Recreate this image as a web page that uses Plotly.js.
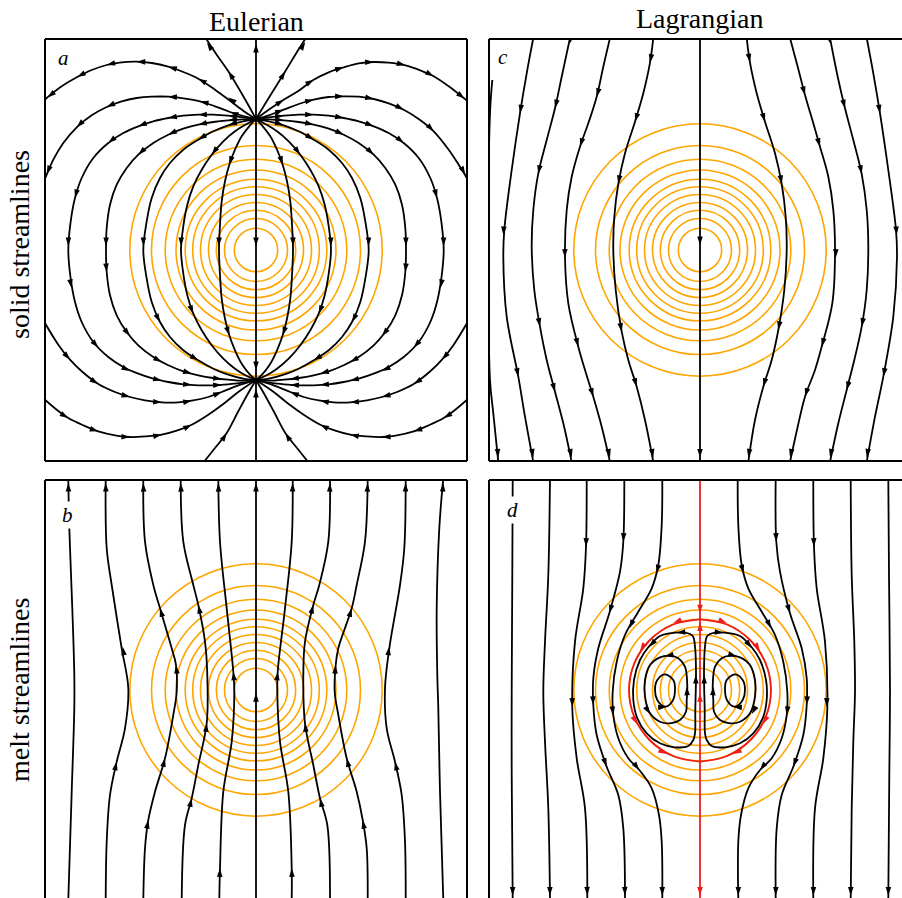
<!DOCTYPE html>
<html>
<head>
<meta charset="utf-8">
<script src="https://cdn.plot.ly/plotly-3.0.1.min.js"></script>
<style>
  html, body { margin: 0; padding: 0; background: #fff; overflow: hidden; }
  #fig { width: 902px; height: 898px; }
</style>
</head>
<body>
<div id="fig"></div>
<script>
// ---------------------------------------------------------------------------
// Data: streamlines are listed in flow order as [x, y] pairs (grid units,
// origin at the centre of the porosity anomaly). Arrows are [x, y] positions.
// ---------------------------------------------------------------------------
const columnTitles = ['Eulerian', 'Lagrangian'];
const rowTitles = ['solid streamlines', 'melt streamlines'];
const panelLetters = ['a', 'c', 'b', 'd'];

// porosity contour radii
const contourRadii = [12.62, 10.45, 9.08, 8.0, 7.08, 6.33, 5.55, 4.75, 3.97, 3.15, 2.17];

// (a) Eulerian solid streamlines
const eulerSolidLines = [
  [[0,13.1],[0,21.3]],
  [[0,13.1],[0,0],[0,-13.0]],
  [[0,-21.3],[0,-13.0]],
  [[0,13.1],[-1.27,15.37],[-2.77,17.87],[-3.93,19.53],[-5.1,21.3]],
  [[0,13.1],[-1.1,13.8],[-2.43,14.8],[-4.1,16.03],[-5.77,17.13],[-7.27,17.8],[-8.77,18.33],[-10.43,18.7],[-11.93,18.83],[-13.43,18.77],[-14.93,18.5],[-16.43,18.0],[-17.87,17.3],[-19.43,16.37],[-20.93,15.2],[-21.4,14.8]],
  [[0,13.1],[-1.27,13.4],[-2.6,13.8],[-4.1,14.37],[-5.6,14.87],[-7.27,15.17],[-8.77,15.33],[-10.43,15.33],[-11.93,15.2],[-13.43,14.87],[-14.93,14.3],[-16.43,13.47],[-17.93,12.27],[-19.27,10.7],[-20.27,9.03],[-20.93,7.53],[-21.4,6.4]],
  [[0,13.1],[-1.27,13.27],[-2.77,13.43],[-4.27,13.53],[-5.77,13.53],[-7.27,13.43],[-8.77,13.2],[-10.27,12.87],[-11.77,12.37],[-13.27,11.7],[-14.77,10.7],[-16.27,9.2],[-17.43,7.2],[-18.1,5.2],[-18.53,2.87],[-18.77,0],[-18.53,-2.87],[-18.1,-5.2],[-17.43,-7.2],[-16.27,-9.2],[-14.77,-10.7],[-13.27,-11.7],[-11.77,-12.37],[-10.27,-12.87],[-8.77,-13.2],[-7.27,-13.43],[-5.77,-13.53],[-4.27,-13.53],[-2.77,-13.43],[-1.27,-13.27],[0,-13.0]],
  [[0,13.1],[-1.27,13.07],[-2.77,12.97],[-4.27,12.8],[-5.77,12.53],[-7.27,12.13],[-8.77,11.53],[-10.27,10.7],[-11.77,9.53],[-12.93,8.2],[-13.93,6.53],[-14.6,4.53],[-14.93,2.2],[-15.0,0],[-14.93,-2.2],[-14.6,-4.53],[-13.93,-6.53],[-12.93,-8.2],[-11.77,-9.53],[-10.27,-10.7],[-8.77,-11.53],[-7.27,-12.13],[-5.77,-12.53],[-4.27,-12.8],[-2.77,-12.97],[-1.27,-13.07],[0,-13.0]],
  [[0,13.1],[-1.27,12.87],[-2.77,12.47],[-4.27,11.87],[-5.77,11.03],[-7.27,10.03],[-8.6,8.7],[-9.6,7.2],[-10.43,5.2],[-10.93,2.87],[-11.27,0],[-10.93,-2.87],[-10.43,-5.2],[-9.6,-7.2],[-8.6,-8.7],[-7.27,-10.03],[-5.77,-11.03],[-4.27,-11.87],[-2.77,-12.47],[-1.27,-12.87],[0,-13.0]],
  [[0,13.1],[-0.93,12.6],[-2.1,11.87],[-3.27,10.87],[-4.43,9.53],[-5.43,8.03],[-6.27,6.37],[-6.87,4.53],[-7.27,2.37],[-7.5,0],[-7.27,-2.37],[-6.87,-4.53],[-6.27,-6.37],[-5.43,-8.03],[-4.43,-9.53],[-3.27,-10.87],[-2.1,-11.87],[-0.93,-12.6],[0,-13.0]],
  [[0,13.1],[-0.6,12.47],[-1.43,11.37],[-2.1,10.03],[-2.67,8.53],[-3.1,6.87],[-3.43,4.87],[-3.6,2.53],[-3.7,0],[-3.6,-2.53],[-3.43,-4.87],[-3.1,-6.87],[-2.67,-8.53],[-2.1,-10.03],[-1.43,-11.37],[-0.6,-12.47],[0,-13.0]],
  [[-5.3,-21.3],[-4.1,-19.8],[-2.93,-18.3],[-1.77,-16.13],[-0.77,-14.3],[0,-13.0]],
  [[-21.4,-14.7],[-19.93,-15.97],[-18.77,-16.8],[-17.27,-17.53],[-15.77,-18.13],[-14.1,-18.53],[-12.6,-18.7],[-10.93,-18.63],[-9.43,-18.47],[-7.93,-18.07],[-6.43,-17.47],[-4.77,-16.47],[-3.27,-15.4],[-1.77,-14.2],[0,-13.0]],
  [[-21.4,-6.8],[-19.77,-9.47],[-18.6,-10.97],[-17.43,-12.13],[-15.77,-13.4],[-14.1,-14.2],[-12.6,-14.7],[-11.1,-15.03],[-9.43,-15.23],[-7.77,-15.23],[-6.43,-15.07],[-4.77,-14.7],[-3.43,-14.2],[-1.77,-13.53],[0,-13.0]],
  [[0,13.1],[1.27,15.2],[2.93,17.87],[3.93,19.53],[5.05,21.3]],
  [[0,13.1],[1.27,14.03],[2.77,15.03],[4.27,15.93],[5.77,17.03],[7.27,17.77],[8.77,18.27],[10.27,18.67],[11.77,18.8],[13.27,18.73],[14.93,18.47],[16.43,17.97],[17.77,17.37],[19.27,16.37],[20.77,15.2],[21.4,14.7]],
  [[0,13.1],[1.27,13.47],[2.77,14.03],[4.27,14.6],[5.77,15.03],[7.27,15.3],[8.77,15.37],[10.27,15.33],[11.77,15.1],[13.27,14.67],[14.77,14.03],[16.27,13.1],[17.77,11.87],[19.27,10.03],[20.27,8.53],[20.93,7.47],[21.4,6.5]],
  [[0,13.1],[1.27,13.27],[2.77,13.43],[4.27,13.53],[5.77,13.53],[7.27,13.43],[8.77,13.2],[10.27,12.87],[11.77,12.37],[13.27,11.7],[14.77,10.7],[16.27,9.2],[17.43,7.2],[18.1,5.2],[18.53,2.87],[18.77,0],[18.53,-2.87],[18.1,-5.2],[17.43,-7.2],[16.27,-9.2],[14.77,-10.7],[13.27,-11.7],[11.77,-12.37],[10.27,-12.87],[8.77,-13.2],[7.27,-13.43],[5.77,-13.53],[4.27,-13.53],[2.77,-13.43],[1.27,-13.27],[0,-13.0]],
  [[0,13.1],[1.27,13.07],[2.77,12.97],[4.27,12.8],[5.77,12.53],[7.27,12.13],[8.77,11.53],[10.27,10.7],[11.77,9.53],[12.93,8.2],[13.93,6.53],[14.6,4.53],[14.93,2.2],[15.0,0],[14.93,-2.2],[14.6,-4.53],[13.93,-6.53],[12.93,-8.2],[11.77,-9.53],[10.27,-10.7],[8.77,-11.53],[7.27,-12.13],[5.77,-12.53],[4.27,-12.8],[2.77,-12.97],[1.27,-13.07],[0,-13.0]],
  [[0,13.1],[1.27,12.87],[2.77,12.47],[4.27,11.87],[5.77,11.03],[7.27,10.03],[8.6,8.7],[9.6,7.2],[10.43,5.2],[10.93,2.87],[11.27,0],[10.93,-2.87],[10.43,-5.2],[9.6,-7.2],[8.6,-8.7],[7.27,-10.03],[5.77,-11.03],[4.27,-11.87],[2.77,-12.47],[1.27,-12.87],[0,-13.0]],
  [[0,13.1],[0.93,12.6],[2.1,11.87],[3.27,10.87],[4.43,9.53],[5.43,8.03],[6.27,6.37],[6.87,4.53],[7.27,2.37],[7.5,0],[7.27,-2.37],[6.87,-4.53],[6.27,-6.37],[5.43,-8.03],[4.43,-9.53],[3.27,-10.87],[2.1,-11.87],[0.93,-12.6],[0,-13.0]],
  [[0,13.1],[0.6,12.47],[1.43,11.37],[2.1,10.03],[2.67,8.53],[3.1,6.87],[3.43,4.87],[3.6,2.53],[3.7,0],[3.6,-2.53],[3.43,-4.87],[3.1,-6.87],[2.67,-8.53],[2.1,-10.03],[1.43,-11.37],[0.6,-12.47],[0,-13.0]],
  [[5.3,-21.3],[4.1,-19.8],[2.93,-18.3],[1.77,-16.13],[0.77,-14.3],[0,-13.0]],
  [[21.4,-14.7],[19.93,-15.97],[18.77,-16.8],[17.27,-17.53],[15.77,-18.13],[14.1,-18.53],[12.6,-18.7],[10.93,-18.63],[9.43,-18.47],[7.93,-18.07],[6.43,-17.47],[4.77,-16.47],[3.27,-15.4],[1.77,-14.2],[0,-13.0]],
  [[21.4,-6.8],[19.77,-9.47],[18.6,-10.97],[17.43,-12.13],[15.77,-13.4],[14.1,-14.2],[12.6,-14.7],[11.1,-15.03],[9.43,-15.23],[7.77,-15.23],[6.43,-15.07],[4.77,-14.7],[3.43,-14.2],[1.77,-13.53],[0,-13.0]]
];
const eulerSolidArrows = [
  [0,20.6],[0,0.4],[0,-12.0],[0,-13.9],
  [-2.77,17.87],[-4.9,20.75],[2.93,17.87],[4.93,20.8],
  [-2.77,15.25],[-5.77,17.13],[-8.77,18.33],[-11.93,18.83],[-14.93,18.5],[-17.87,17.3],[-20.85,15.25],
  [2.77,15.03],[5.77,17.03],[8.77,18.27],[11.77,18.8],[14.93,18.47],[17.77,17.37],[20.85,15.15],
  [-2.6,13.8],[-5.6,14.87],[-8.77,15.33],[-14.93,14.3],[-17.93,12.27],[-20.93,7.6],
  [2.77,14.03],[5.77,15.03],[8.77,15.37],[11.77,15.1],[14.77,14.03],[17.77,11.87],[20.93,7.55],
  [-2.77,13.43],[-5.77,13.53],[-8.77,13.2],[-11.77,12.37],[-14.77,10.7],[-18.1,5.2],[-18.77,0.4],
  [2.77,13.43],[5.77,13.53],[8.77,13.2],[11.77,12.37],[14.77,10.7],[18.1,5.2],[18.77,0.4],
  [-18.45,-3.8],[-15.77,-9.75],[-12.6,-12.1],[-9.43,-13.05],[-6.43,-13.48],[-3.43,-13.47],
  [18.45,-3.8],[15.77,-9.75],[12.6,-12.1],[9.43,-13.05],[6.43,-13.48],[3.43,-13.47],
  [-2.77,12.97],[-5.77,12.53],[-8.77,11.53],[-11.77,9.53],[-15.0,0.4],
  [2.77,12.97],[5.77,12.53],[8.77,11.53],[11.77,9.53],[15.0,0.4],
  [-14.93,-2.2],[-12.6,-8.6],[-9.43,-11.2],[-6.43,-12.35],[-3.43,-12.9],
  [14.93,-2.2],[12.6,-8.6],[9.43,-11.2],[6.43,-12.35],[3.43,-12.9],
  [-2.77,12.47],[-5.77,11.03],[-11.27,0.4],[-9.6,-7.2],[-5.77,-11.03],
  [2.77,12.47],[5.77,11.03],[11.27,0.4],[9.6,-7.2],[5.77,-11.03],
  [-4.43,9.53],[-7.5,0.4],[-6.27,-6.37],
  [4.43,9.53],[7.5,0.4],[6.27,-6.37],
  [-2.67,8.53],[-3.7,0.4],[-2.67,-8.53],
  [2.67,8.53],[3.7,0.4],[2.67,-8.53],
  [-2.93,-18.3],[2.93,-18.3],
  [-18.77,-16.8],[-15.77,-18.13],[-12.6,-18.7],[-9.43,-18.47],[-6.43,-17.47],
  [18.77,-16.8],[15.77,-18.13],[12.6,-18.7],[9.43,-18.47],[6.43,-17.47],
  [-18.6,-10.97],[-15.77,-13.4],[-12.6,-14.7],[-9.43,-15.23],[-6.43,-15.07],[-3.43,-14.2],
  [18.6,-10.97],[15.77,-13.4],[12.6,-14.7],[9.43,-15.23],[6.43,-15.07],[3.43,-14.2]
];

// (c) Lagrangian solid streamlines
const lagrSolidLines = [
  [[-20.77,17.0],[-21.0,13.67],[-21.17,0.33],[-21.0,-13.0],[-20.67,-16.33],[-20.17,-21.2]],
  [[-16.67,21.2],[-17.33,17.67],[-18.0,13.67],[-18.83,8.0],[-19.57,2.0],[-19.67,-0.67],[-19.33,-6.67],[-18.17,-12.67],[-17.5,-16.67],[-16.67,-21.2]],
  [[-13.0,21.2],[-13.83,17.33],[-14.5,14.17],[-15.33,11.0],[-16.17,7.67],[-16.67,4.0],[-16.83,0.33],[-16.57,-4.0],[-16.0,-7.67],[-15.33,-11.0],[-14.5,-14.17],[-13.67,-17.33],[-12.83,-21.2]],
  [[-9.0,21.2],[-9.67,18.33],[-10.33,15.33],[-11.17,12.67],[-12.0,10.33],[-12.83,7.33],[-13.33,4.0],[-13.5,-0.67],[-13.17,-5.33],[-12.17,-9.67],[-11.5,-12.0],[-10.67,-14.67],[-9.83,-17.67],[-9.0,-21.2]],
  [[-4.67,21.2],[-5.0,18.73],[-5.67,15.67],[-6.5,12.83],[-7.5,9.67],[-8.17,6.6],[-8.57,3.33],[-8.67,0.0],[-8.43,-4.0],[-7.83,-8.17],[-7.17,-11.0],[-6.33,-13.67],[-5.5,-17.0],[-4.67,-21.2]],
  [[0,21.2],[0,0],[0,-21.2]],
  [[4.67,21.2],[5.0,18.73],[5.67,15.67],[6.5,12.83],[7.5,9.67],[8.17,6.6],[8.57,3.33],[8.67,0.0],[8.43,-4.0],[7.83,-8.0],[7.17,-11.0],[6.33,-13.67],[5.5,-17.0],[4.83,-21.2]],
  [[9.0,21.2],[9.77,18.33],[10.5,15.5],[11.33,12.67],[12.0,10.33],[12.83,7.33],[13.33,4.0],[13.5,-0.67],[13.23,-5.33],[12.17,-9.67],[11.5,-12.0],[10.5,-14.67],[9.77,-17.67],[9.0,-21.2]],
  [[13.0,21.2],[13.77,17.33],[14.5,14.17],[15.33,11.0],[16.17,7.6],[16.67,4.0],[16.83,0.33],[16.67,-4.0],[16.17,-7.67],[15.43,-11.0],[14.67,-14.0],[13.83,-17.33],[13.0,-21.2]],
  [[16.67,21.2],[17.33,17.67],[18.0,13.67],[18.83,8.0],[19.6,2.0],[19.7,-0.67],[19.33,-6.67],[18.33,-12.67],[17.5,-16.67],[16.67,-21.2]]
];
const lagrSolidArrows = [
  [-13.0,20.67],[-5.0,18.73],[5.0,18.77],[13.0,20.67],
  [-18.0,13.67],[-14.5,14.17],[-10.33,15.33],[-6.5,12.83],[6.5,12.83],[10.5,15.5],[14.5,14.17],[18.0,13.67],
  [-16.17,7.6],[-12.0,10.33],[-8.17,6.6],[8.17,6.6],[12.0,10.33],[16.17,7.6],
  [-19.67,1.5],[-13.5,-0.77],[13.57,-0.77],[19.67,1.5],[0,0.5],
  [-16.0,-7.67],[-12.17,-9.67],[-7.83,-8.17],[7.83,-8.0],[12.17,-9.67],[16.17,-7.67],
  [-18.17,-12.67],[-14.5,-14.17],[-10.67,-14.67],[-6.33,-13.67],[6.33,-13.67],[10.5,-14.67],[14.67,-14.0],[18.33,-12.67],
  [-20.17,-20.75],[-16.67,-20.75],[-12.83,-20.75],[-9.0,-20.75],[-4.67,-20.75],[0,-20.75],[4.83,-20.75],[9.0,-20.75],[13.0,-20.75],[16.67,-20.75]
];

// (b) Eulerian melt streamlines
const eulerMeltLines = [
  [[-18.77,-21.0],[-18.43,-10.17],[-18.17,-1.83],[-18.17,1.5],[-18.37,8.17],[-18.67,16.17],[-18.77,21.2]],
  [[-15.03,-21.0],[-14.93,-15.17],[-14.6,-10.5],[-13.93,-7.17],[-13.1,-3.83],[-12.77,0.17],[-13.43,4.17],[-14.43,10.5],[-14.93,14.17],[-15.03,21.2]],
  [[-11.27,-21.0],[-11.1,-15.83],[-10.77,-13.0],[-10.1,-10.17],[-9.1,-6.83],[-8.27,-2.5],[-7.93,-0.17],[-8.0,2.5],[-8.43,4.17],[-9.6,8.17],[-10.27,10.5],[-11.1,14.83],[-11.27,21.2]],
  [[-7.43,-21.0],[-7.1,-13.5],[-6.43,-10.83],[-5.77,-7.5],[-4.93,-3.33],[-4.87,1.5],[-5.1,4.83],[-5.77,8.5],[-6.27,10.5],[-7.27,14.83],[-7.53,21.2]],
  [[-3.67,-21.0],[-3.6,-17.83],[-3.27,-10.17],[-2.43,-5.17],[-2.17,-0.17],[-2.27,1.83],[-2.93,8.17],[-3.6,14.83],[-3.77,21.2]],
  [[0,-21.0],[0,0],[0,21.2]],
  [[3.57,-21.0],[3.57,-17.83],[3.23,-10.17],[2.4,-5.17],[2.13,-0.17],[2.17,1.83],[2.9,8.17],[3.57,14.83],[3.67,21.2]],
  [[7.4,-21.0],[7.13,-13.5],[6.4,-10.83],[5.73,-7.5],[4.9,-3.33],[4.73,1.5],[4.9,4.83],[5.73,8.5],[6.33,10.5],[7.23,14.83],[7.4,21.2]],
  [[11.17,-21.0],[11.07,-15.83],[10.67,-13.0],[10.07,-10.17],[9.07,-6.83],[8.23,-2.5],[7.87,-0.17],[7.97,2.5],[8.23,4.17],[9.57,8.17],[10.07,10.5],[10.9,14.83],[11.17,21.2]],
  [[14.97,-21.0],[14.9,-15.17],[14.57,-10.5],[13.9,-7.17],[13.07,-3.83],[12.9,0.17],[13.33,4.17],[14.4,10.5],[14.83,14.17],[14.97,21.2]],
  [[18.73,-21.0],[18.4,-10.17],[18.23,-1.83],[18.13,1.5],[18.07,8.17],[18.33,16.17],[18.73,21.2]]
];
const eulerMeltArrows = [
  [-18.77,20.7],[-15.03,20.7],[-11.27,20.7],[-7.53,20.7],[-3.77,20.7],[0,20.7],[3.67,20.7],[7.4,20.7],[11.17,20.7],[14.97,20.7],[18.73,20.7],
  [-9.6,8.17],[-5.77,8.5],[5.73,8.5],[9.57,8.17],
  [-13.33,4.33],[-8.0,2.5],[-2.27,1.83],[2.17,1.83],[7.97,2.5],[13.33,4.33],
  [0,-0.33],
  [-4.93,-3.33],[4.9,-3.33],
  [-13.93,-7.17],[-9.1,-6.83],[9.07,-6.83],[13.9,-7.17],
  [-6.43,-10.83],[6.4,-10.83],
  [-10.77,-13.0],[10.67,-13.0],
  [-3.6,-17.83],[3.57,-17.83]
];

// (d) Lagrangian melt streamlines
const lagrMeltLines = [
  [[-18.73,21.2],[-18.77,11.5],[-18.83,-0.17],[-18.83,-8.5],[-18.73,-20.9]],
  [[-15.0,21.2],[-15.17,11.5],[-15.5,4.83],[-15.67,-0.17],[-15.5,-5.17],[-15.17,-11.83],[-15.0,-20.9]],
  [[-11.33,21.2],[-11.4,14.33],[-11.67,10.17],[-12.5,4.83],[-12.77,-1.83],[-12.33,-6.83],[-11.5,-11.83],[-11.27,-20.9]],
  [[-7.57,21.2],[-7.67,14.83],[-8.0,11.83],[-9.07,7.67],[-10.17,4.17],[-10.67,1.17],[-10.67,-1.5],[-10.33,-4.5],[-9.33,-7.67],[-8.17,-10.5],[-7.67,-13.83],[-7.5,-20.9]],
  [[-3.77,21.2],[-3.83,16.5],[-4.17,12.5],[-4.83,10.17],[-6.17,7.83],[-7.5,5.5],[-8.33,2.83],[-8.73,-0.17],[-8.67,-2.5],[-8.17,-4.83],[-7.17,-6.83],[-6.07,-8.0],[-4.83,-9.83],[-4.1,-12.5],[-3.83,-15.17],[-3.77,-20.9]],
  [[3.77,21.2],[3.83,16.5],[4.17,12.5],[4.83,10.17],[6.17,7.83],[7.5,5.5],[8.33,2.83],[8.73,-0.17],[8.67,-2.5],[8.17,-4.83],[7.17,-6.83],[6.0,-8.0],[4.83,-9.83],[4.1,-12.5],[3.83,-15.17],[3.83,-20.9]],
  [[7.57,21.2],[7.63,14.83],[8.0,11.83],[9.0,7.67],[10.17,4.17],[10.67,1.17],[10.67,-1.5],[10.33,-4.5],[9.33,-7.67],[8.17,-10.5],[7.67,-13.83],[7.57,-20.9]],
  [[11.33,21.2],[11.4,14.33],[11.67,10.17],[12.5,4.83],[12.73,-1.83],[12.33,-6.83],[11.5,-11.83],[11.33,-20.9]],
  [[15.07,21.2],[15.17,11.5],[15.43,4.83],[15.5,-0.17],[15.33,-5.17],[15.17,-11.83],[15.07,-20.9]],
  [[18.83,21.2],[18.9,11.5],[19.0,-0.17],[18.93,-8.5],[18.83,-20.9]],
  // recirculation cells
  [[-0.5,-4.33],[-0.47,-2.0],[-0.4,1.67],[-0.5,4.33],[-0.73,5.4],[-1.5,5.73],[-2.5,5.73],[-4.0,5.4],[-5.17,4.27],[-6.0,3.0],[-6.6,1.0],[-6.67,-1.0],[-6.27,-2.83],[-5.33,-4.33],[-4.0,-5.33],[-2.5,-5.73],[-1.17,-5.6],[-0.67,-5.0],[-0.5,-4.33]],
  [[-1.33,-1.0],[-1.27,0.33],[-1.5,2.33],[-2.17,3.17],[-3.0,3.43],[-4.0,3.27],[-5.0,2.5],[-5.5,1.0],[-5.5,-0.67],[-5.0,-2.33],[-4.0,-3.17],[-3.0,-3.33],[-2.0,-3.0],[-1.4,-2.17],[-1.33,-1.0]],
  [[-2.5,0.0],[-2.67,1.0],[-3.5,1.57],[-4.27,1.0],[-4.5,0.0],[-4.27,-1.0],[-3.5,-1.67],[-2.73,-1.07],[-2.5,0.0]],
  [[0.5,-4.33],[0.47,-2.0],[0.4,1.67],[0.5,4.33],[0.73,5.4],[1.5,5.73],[2.5,5.73],[4.0,5.4],[5.17,4.27],[6.0,3.0],[6.6,1.0],[6.67,-1.0],[6.27,-2.83],[5.33,-4.33],[4.0,-5.33],[2.5,-5.73],[1.17,-5.6],[0.67,-5.0],[0.5,-4.33]],
  [[1.33,-1.0],[1.27,0.33],[1.5,2.33],[2.17,3.17],[3.0,3.43],[4.0,3.27],[5.0,2.5],[5.5,1.0],[5.5,-0.67],[5.0,-2.33],[4.0,-3.17],[3.0,-3.33],[2.0,-3.0],[1.4,-2.17],[1.33,-1.0]],
  [[2.5,0.0],[2.67,1.0],[3.5,1.57],[4.27,1.0],[4.5,0.0],[4.27,-1.0],[3.5,-1.67],[2.73,-1.07],[2.5,0.0]]
];
const lagrMeltArrows = [
  [-18.73,-20.55],[-15.0,-20.55],[-11.27,-20.55],[-7.5,-20.55],[-3.77,-20.55],[3.83,-20.55],[7.57,-20.55],[11.33,-20.55],[15.07,-20.55],[18.83,-20.55],
  [-11.4,14.33],[-12.77,-1.67],[11.4,14.33],[12.67,-1.67],
  [-7.67,14.83],[-9.07,7.67],[-10.67,-1.5],[-9.33,-7.67],
  [7.63,14.83],[9.0,7.67],[10.67,-1.5],[9.33,-7.67],
  [-4.35,11.67],[-7.07,6.17],[-8.67,-2.5],[-6.07,-8.0],
  [4.35,11.67],[7.1,6.17],[8.67,-2.5],[6.0,-8.0],
  [-2.33,5.73],[-5.07,4.3],[-0.42,1.5],[-3.5,3.37],[-5.0,-2.4],[-1.33,0.33],[-3.33,-1.67],
  [2.33,5.73],[5.17,4.2],[0.42,1.5],[3.67,3.37],[5.17,-2.4],[1.33,0.33],[3.33,-1.67]
];

// (d) separatrix streamlines
const separatrixLines = [
  [[0,21.2],[0,7.07]],
  [[0,-7.17],[0,7.07]],
  [[0,-7.17],[0,-20.9]],
  [[0,7.07],[-2.7,6.55],[-5.0,5.0],[-6.55,2.7],[-7.1,0],[-6.55,-2.75],[-5.0,-5.05],[-2.7,-6.6],[0,-7.17]],
  [[0,7.07],[2.7,6.55],[5.0,5.0],[6.55,2.7],[7.1,0],[6.55,-2.75],[5.0,-5.05],[2.7,-6.6],[0,-7.17]]
];
const separatrixArrows = [
  [0,7.67],[0,6.75],[0,-0.33],[0,-20.55],
  [-2.67,6.7],[-6.0,3.9],[-6.3,-3.4],[-3.33,-6.4],
  [2.67,6.7],[6.0,3.9],[6.3,-3.4],[3.33,-6.4]
];

// ---------------------------------------------------------------------------
// Helpers
// ---------------------------------------------------------------------------
function flatten(lines) {
  const x = [], y = [];
  lines.forEach((ln, i) => {
    if (i) { x.push(null); y.push(null); }
    ln.forEach(p => { x.push(p[0]); y.push(p[1]); });
  });
  return { x, y };
}

function tangentAt(line, k) {
  const a = line[Math.max(k - 1, 0)], b = line[Math.min(k + 1, line.length - 1)];
  const dx = b[0] - a[0], dy = b[1] - a[1];
  const L = Math.hypot(dx, dy) || 1;
  return [dx / L, dy / L];
}

// heading (degrees clockwise from up) of the streamline passing closest to p
function arrowAngle(p, lines) {
  let best = Infinity, ang = 0;
  lines.forEach(line => {
    for (let i = 0; i < line.length - 1; i++) {
      const a = line[i], b = line[i + 1];
      const vx = b[0] - a[0], vy = b[1] - a[1];
      const L2 = vx * vx + vy * vy;
      if (!L2) continue;
      let t = ((p[0] - a[0]) * vx + (p[1] - a[1]) * vy) / L2;
      t = Math.max(0, Math.min(1, t));
      const d = Math.hypot(a[0] + t * vx - p[0], a[1] + t * vy - p[1]);
      if (d < best) {
        best = d;
        const ta = tangentAt(line, i), tb = tangentAt(line, i + 1);
        const tx = (1 - t) * ta[0] + t * tb[0], ty = (1 - t) * ta[1] + t * tb[1];
        ang = Math.atan2(tx, ty) * 180 / Math.PI;
      }
    }
  });
  return ang;
}

function lineTrace(lines, xa, ya, color, width) {
  const f = flatten(lines);
  return {
    type: 'scatter', mode: 'lines', x: f.x, y: f.y, xaxis: xa, yaxis: ya,
    line: { color: color, width: width, shape: 'spline', smoothing: 1 },
    connectgaps: false, hoverinfo: 'skip', showlegend: false
  };
}

function arrowTrace(arrows, lines, xa, ya, color) {
  return {
    type: 'scatter', mode: 'markers',
    x: arrows.map(p => p[0]), y: arrows.map(p => p[1]), xaxis: xa, yaxis: ya,
    marker: { symbol: 'arrow', size: 9, color: color, line: { width: 0 },
              angle: arrows.map(p => arrowAngle(p, lines)) },
    hoverinfo: 'skip', showlegend: false
  };
}

// ---------------------------------------------------------------------------
// Layout geometry
// ---------------------------------------------------------------------------
const W = 902, H = 898;
const colL = [45 / W, 467 / W], colR = [489 / W, 1];
const rowT = [1 - 461 / H, 1 - 39 / H], rowB = [0, 1 - 480 / H];
const orange = '#ffa500';
const serif = 'Liberation Serif, Times New Roman, serif';
const LW = 1.8;

const traces = [
  lineTrace(eulerSolidLines, 'x', 'y', '#000', LW),
  arrowTrace(eulerSolidArrows, eulerSolidLines, 'x', 'y', '#000'),
  lineTrace(lagrSolidLines, 'x2', 'y2', '#000', LW),
  arrowTrace(lagrSolidArrows, lagrSolidLines, 'x2', 'y2', '#000'),
  lineTrace(eulerMeltLines, 'x3', 'y3', '#000', LW),
  arrowTrace(eulerMeltArrows, eulerMeltLines, 'x3', 'y3', '#000'),
  lineTrace(lagrMeltLines, 'x4', 'y4', '#000', LW),
  arrowTrace(lagrMeltArrows, lagrMeltLines, 'x4', 'y4', '#000'),
  lineTrace(separatrixLines, 'x4', 'y4', '#ee1c1c', LW),
  arrowTrace(separatrixArrows, separatrixLines, 'x4', 'y4', '#ee1c1c')
];

const shapes = [];
[['x', 'y'], ['x2', 'y2'], ['x3', 'y3'], ['x4', 'y4']].forEach(([xr, yr]) => {
  contourRadii.forEach(r => shapes.push({
    type: 'circle', xref: xr, yref: yr, x0: -r, x1: r, y0: -r, y1: r,
    line: { color: orange, width: 1.6 }, layer: 'below'
  }));
});
function edge(x0, y0, x1, y1) {
  shapes.push({ type: 'line', xref: 'paper', yref: 'paper', x0, y0, x1, y1,
                line: { color: '#000', width: 2 }, layer: 'above' });
}
// frames (panels on the right and bottom run past the page edge)
edge(colL[0], rowT[0], colL[1], rowT[0]); edge(colL[0], rowT[1], colL[1], rowT[1]);
edge(colL[0], rowT[0], colL[0], rowT[1]); edge(colL[1], rowT[0], colL[1], rowT[1]);
edge(colR[0], rowT[0], colR[1], rowT[0]); edge(colR[0], rowT[1], colR[1], rowT[1]);
edge(colR[0], rowT[0], colR[0], rowT[1]);
edge(colL[0], rowB[1], colL[1], rowB[1]);
edge(colL[0], rowB[0], colL[0], rowB[1]); edge(colL[1], rowB[0], colL[1], rowB[1]);
edge(colR[0], rowB[1], colR[1], rowB[1]);
edge(colR[0], rowB[0], colR[0], rowB[1]);

const titleFont = { family: serif, size: 28, color: '#000' };
const letterFont = { family: serif, size: 21, color: '#000' };
const annotations = [
  { text: columnTitles[0], xref: 'paper', yref: 'paper', x: 256 / W, y: 1 - 21 / H,
    xanchor: 'center', yanchor: 'middle', showarrow: false, font: titleFont },
  { text: columnTitles[1], xref: 'paper', yref: 'paper', x: 700 / W, y: 1 - 19 / H,
    xanchor: 'center', yanchor: 'middle', showarrow: false, font: titleFont },
  { text: rowTitles[0], xref: 'paper', yref: 'paper', x: 19 / W, y: 1 - 245 / H, textangle: -90,
    xanchor: 'center', yanchor: 'middle', showarrow: false, font: titleFont },
  { text: rowTitles[1], xref: 'paper', yref: 'paper', x: 19 / W, y: 1 - 690 / H, textangle: -90,
    xanchor: 'center', yanchor: 'middle', showarrow: false, font: titleFont },
  { text: '<i>' + panelLetters[0] + '</i>', xref: 'x', yref: 'y', x: -19.3, y: 19.2, showarrow: false,
    font: letterFont },
  { text: '<i>' + panelLetters[1] + '</i>', xref: 'x2', yref: 'y2', x: -19.7, y: 19.3, showarrow: false,
    font: letterFont },
  { text: '<i>' + panelLetters[2] + '</i>', xref: 'x3', yref: 'y3', x: -18.9, y: 17.5, showarrow: false,
    bgcolor: '#fff', font: letterFont },
  { text: '<i>' + panelLetters[3] + '</i>', xref: 'x4', yref: 'y4', x: -18.8, y: 18.0, showarrow: false,
    bgcolor: '#fff', font: letterFont }
];

function ax(domain, range, anchor) {
  return { domain, range, anchor, visible: false, fixedrange: true,
           showgrid: false, zeroline: false };
}

const layout = {
  width: W, height: H,
  margin: { l: 0, r: 0, t: 0, b: 0, pad: 0 },
  paper_bgcolor: '#fff', plot_bgcolor: 'rgba(0,0,0,0)',
  showlegend: false, hovermode: false,
  xaxis: ax(colL, [-21.1, 21.1], 'y'),   yaxis: ax(rowT, [-21.1, 21.1], 'x'),
  xaxis2: ax(colR, [-21.1, 20.2], 'y2'), yaxis2: ax(rowT, [-21.1, 21.1], 'x2'),
  xaxis3: ax(colL, [-21.1, 21.1], 'y3'), yaxis3: ax(rowB, [-20.8, 21.0], 'x3'),
  xaxis4: ax(colR, [-21.1, 20.2], 'y4'), yaxis4: ax(rowB, [-20.8, 21.0], 'x4'),
  shapes, annotations
};

Plotly.newPlot('fig', traces, layout, { staticPlot: true, displayModeBar: false });
</script>
</body>
</html>
